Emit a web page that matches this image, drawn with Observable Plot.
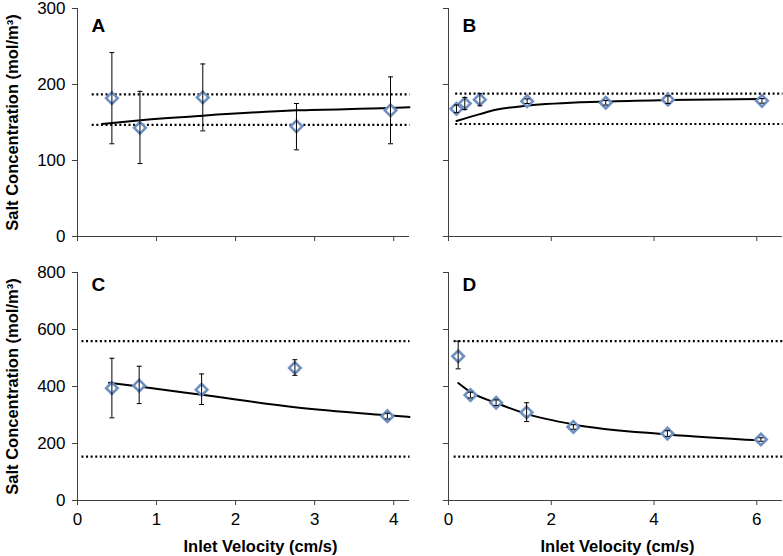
<!DOCTYPE html>
<html>
<head>
<meta charset="utf-8">
<script src="https://cdn.jsdelivr.net/npm/d3@7"></script>
<script src="https://cdn.jsdelivr.net/npm/@observablehq/plot@0.6"></script>
<style>
  body { margin: 0; background: #fff; }
  #chart { position: relative; width: 783px; height: 556px; }
  #chart svg { position: absolute; left: 0; top: 0; }
</style>
</head>
<body>
<div id="chart"></div>
<script>
// ---- Data ----
const panelLetters = ["A", "B", "C", "D"];
const yTitle = "Salt Concentration (mol/m³)";
const xTitle = "Inlet Velocity (cm/s)";

const ticksXLeft = [0, 1, 2, 3, 4];
const ticksXRight = [0, 2, 4, 6];
const ticksYTop = [0, 100, 200, 300];
const ticksYBottom = [0, 200, 400, 600, 800];

// Panel A
const xA = [0.435, 0.79, 1.585, 2.77, 3.96];
const yA = [182, 143, 183, 145, 166];
const loA = [122, 96, 139, 114, 122];
const hiA = [242, 191, 227, 175, 210];
const fitXA = [0.31, 0.8, 1.585, 2.77, 3.96, 4.2];
const fitYA = [148, 153, 159, 166, 169, 170];
const refA = [147, 187];
const refSpanA = [0.18, 4.2];

// Panel B
const xB = [0.155, 0.317, 0.61, 1.53, 3.06, 4.27, 6.10];
const yB = [168, 175, 180, 178, 176, 180, 178.5];
const loB = [163, 167, 172, 175, 173, 175, 175.5];
const hiB = [173, 183, 188, 181, 179, 185, 181.5];
const fitXB = [0.155, 0.61, 0.945, 1.53, 3.06, 4.27, 6.1];
const fitYB = [152, 161, 167, 172, 177.5, 179.5, 181];
const refB = [148, 188];
const refSpanB = [0.13, 6.5];

// Panel C
const xC = [0.435, 0.78, 1.57, 2.75, 3.92];
const yC = [394, 403, 389, 465, 296];
const loC = [290, 340, 337, 439, 286];
const hiC = [499, 471, 444, 494, 306];
const fitXC = [0.40, 0.78, 1.57, 2.75, 3.92, 4.2];
const fitYC = [413, 400, 371, 327, 299, 293];
const refC = [154, 559];
const refSpanC = [0.05, 4.2];

// Panel D
const xD = [0.188, 0.427, 0.926, 1.52, 2.43, 4.26, 6.08];
const yD = [506, 370, 343, 309, 258, 235, 214];
const loD = [462, 360, 333, 277, 250, 225, 208];
const hiD = [559, 380, 353, 343, 266, 245, 220];
const fitXD = [0.19, 0.43, 0.93, 1.52, 2.43, 4.26, 6.08];
const fitYD = [412, 380, 342, 304, 267, 232, 211];
const refD = [154, 559];
const refSpanD = [0.1, 6.5];

// ---- Drawing ----
const FONT = "'Liberation Sans', Arial, sans-serif";
const AXIS = "#404040";
const MARK = "#6f8fc0";

const capSymbol = {
  draw(context, size) {
    const w = 2.5;
    context.moveTo(-w, 0);
    context.lineTo(w, 0);
  }
};

function zip(xs, ys, extra = {}) {
  return xs.map((x, i) => {
    const o = {x, y: ys[i]};
    for (const k in extra) o[k] = extra[k][i];
    return o;
  });
}

function panel(opt) {
  const pts = zip(opt.xs, opt.ys, {lo: opt.lo, hi: opt.hi});
  const fit = zip(opt.fx, opt.fy);
  const refs = opt.ref.map(v => ({v, x1: opt.refSpan[0], x2: opt.refSpan[1]}));
  const marks = [
    Plot.ruleX([0], {stroke: AXIS, strokeWidth: 1}),
    Plot.ruleY([0], {stroke: AXIS, strokeWidth: 1}),
    Plot.axisX({ticks: opt.xTicks, tickSize: 5, tickPadding: 7, stroke: AXIS, label: null,
      tickFormat: opt.showX ? (d => String(d)) : (() => "")}),
    Plot.axisY({ticks: opt.yTicks, tickSize: 5, tickPadding: 7, stroke: AXIS, label: null,
      tickFormat: opt.showY ? (d => String(d)) : (() => "")}),
    Plot.link(refs, {x1: "x1", x2: "x2", y1: "v", y2: "v", stroke: "#000", strokeWidth: 2.2, strokeDasharray: "2,2.6"}),
    Plot.line(fit, {x: "x", y: "y", curve: "monotone-x", stroke: "#000", strokeWidth: 2}),
    Plot.dot(pts, {x: "x", y: "y", symbol: "diamond2", r: 5.2, stroke: MARK, strokeWidth: 2.6, fill: "#fff"}),
    Plot.ruleX(pts, {x: "x", y1: "lo", y2: "hi", stroke: "#000", strokeWidth: 1}),
    Plot.dot(pts, {x: "x", y: "lo", symbol: capSymbol, r: 3, stroke: "#000", strokeWidth: 1, fill: "none"}),
    Plot.dot(pts, {x: "x", y: "hi", symbol: capSymbol, r: 3, stroke: "#000", strokeWidth: 1, fill: "none"}),
    Plot.text([opt.letter], {frameAnchor: "top-left", dx: 14, dy: opt.letterDy, fontWeight: "bold", fontSize: 19, fill: "#000"})
  ];
  if (opt.showY) {
    marks.push(Plot.text([yTitle], {frameAnchor: "left", dx: -65, rotate: -90, textAnchor: "middle", lineAnchor: "middle",
      fontWeight: "bold", fontSize: 16.5, fill: "#000"}));
  }
  if (opt.showX) {
    marks.push(Plot.text([xTitle], {frameAnchor: "bottom", dx: opt.xTitleDx, dy: 46, textAnchor: "middle", lineAnchor: "middle",
      fontWeight: "bold", fontSize: 16.5, fill: "#000"}));
  }
  return Plot.plot({
    width: 783, height: 556,
    marginLeft: opt.m[0], marginRight: opt.m[1], marginTop: opt.m[2], marginBottom: opt.m[3],
    x: {domain: opt.xDomain, label: null},
    y: {domain: opt.yDomain, label: null},
    style: {fontFamily: FONT, fontSize: "17px", color: "#000", background: "transparent", overflow: "visible"},
    marks
  });
}

const chart = document.getElementById("chart");
const specs = [
  {letter: panelLetters[0], xs: xA, ys: yA, lo: loA, hi: hiA, fx: fitXA, fy: fitYA, ref: refA, refSpan: refSpanA,
   xDomain: [0, 4.2], yDomain: [0, 300], xTicks: ticksXLeft, yTicks: ticksYTop, m: [77, 374, 8, 320],
   showX: false, showY: true, letterDy: 10},
  {letter: panelLetters[1], xs: xB, ys: yB, lo: loB, hi: hiB, fx: fitXB, fy: fitYB, ref: refB, refSpan: refSpanB,
   xDomain: [0, 6.5], yDomain: [0, 300], xTicks: ticksXRight, yTicks: ticksYTop, m: [448, 1, 8, 320],
   showX: false, showY: false, letterDy: 10},
  {letter: panelLetters[2], xs: xC, ys: yC, lo: loC, hi: hiC, fx: fitXC, fy: fitYC, ref: refC, refSpan: refSpanC,
   xDomain: [0, 4.2], yDomain: [0, 800], xTicks: ticksXLeft, yTicks: ticksYBottom, m: [77, 374, 272, 56],
   showX: true, showY: true, letterDy: 5, xTitleDx: 17},
  {letter: panelLetters[3], xs: xD, ys: yD, lo: loD, hi: hiD, fx: fitXD, fy: fitYD, ref: refD, refSpan: refSpanD,
   xDomain: [0, 6.5], yDomain: [0, 800], xTicks: ticksXRight, yTicks: ticksYBottom, m: [448, 1, 272, 56],
   showX: true, showY: false, letterDy: 5, xTitleDx: 2}
];
for (const s of specs) chart.append(panel(s));
</script>
</body>
</html>
